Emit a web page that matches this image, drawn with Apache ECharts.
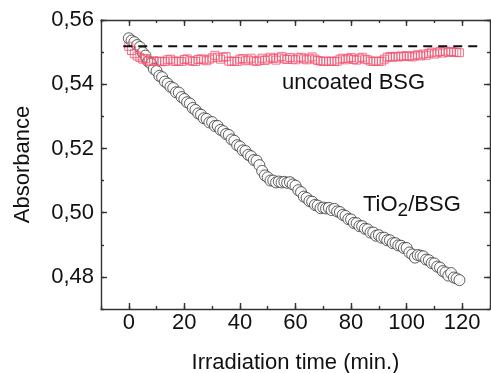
<!DOCTYPE html>
<html><head><meta charset="utf-8">
<script src="https://cdn.jsdelivr.net/npm/echarts@6/dist/echarts.min.js"></script>
<style>html,body{margin:0;padding:0;background:#fff}#c{width:491px;height:373px}</style>
</head><body><div id="c"></div>
<script>
// TiO2/BSG (open circles): time (min) and absorbance
const tioTimes = [0,1,2,3,4,5,6,7,8,9,10,11,12,13,14,15,16,17,18,19,20,21,22,23,24,25,26,27,28,29,30,31,32,33,34,35,36,37,38,39,40,41,42,43,44,45,46,47,48,49,50,51,52,53,54,55,56,57,58,59,60,61,62,63,64,65,66,67,68,69,70,71,72,73,74,75,76,77,78,79,80,81,82,83,84,85,86,87,88,89,90,91,92,93,94,95,96,97,98,99,100,101,102,103,104,105,106,107,108,109,110,111,112,113,114,115,116,117,118,119];
const tioValues = [0.5543,0.5536,0.5531,0.5522,0.5516,0.5499,0.5489,0.5471,0.5464,0.5448,0.5441,0.5426,0.5422,0.5408,0.5402,0.5392,0.5388,0.5375,0.5374,0.5360,0.5354,0.5344,0.5340,0.5326,0.5320,0.5309,0.5305,0.5294,0.5292,0.5281,0.5282,0.5270,0.5270,0.5258,0.5254,0.5245,0.5242,0.5228,0.5224,0.5210,0.5206,0.5194,0.5192,0.5180,0.5176,0.5164,0.5162,0.5148,0.5130,0.5116,0.5110,0.5100,0.5100,0.5094,0.5097,0.5094,0.5096,0.5093,0.5095,0.5088,0.5084,0.5070,0.5064,0.5050,0.5046,0.5036,0.5034,0.5024,0.5022,0.5014,0.5016,0.5013,0.5015,0.5008,0.5012,0.5004,0.5002,0.4993,0.4990,0.4980,0.4979,0.4968,0.4967,0.4958,0.4958,0.4950,0.4948,0.4938,0.4938,0.4928,0.4930,0.4922,0.4922,0.4914,0.4914,0.4905,0.4905,0.4898,0.4897,0.4890,0.4890,0.4876,0.4870,0.4860,0.4868,0.4866,0.4864,0.4854,0.4852,0.4843,0.4842,0.4832,0.4829,0.4818,0.4814,0.4804,0.4812,0.4798,0.4795,0.4790];
// uncoated BSG (open squares)
const bsgTimes = [0,1,2,3,4,5,6,7,8,9,10,11,12,13,14,15,16,17,18,19,20,21,22,23,24,25,26,27,28,29,30,31,32,33,34,35,36,37,38,39,40,41,42,43,44,45,46,47,48,49,50,51,52,53,54,55,56,57,58,59,60,61,62,63,64,65,66,67,68,69,70,71,72,73,74,75,76,77,78,79,80,81,82,83,84,85,86,87,88,89,90,91,92,93,94,95,96,97,98,99,100,101,102,103,104,105,106,107,108,109,110,111,112,113,114,115,116,117,118,119];
const bsgValues = [0.5518,0.5505,0.5495,0.5488,0.5483,0.5478,0.5480,0.5472,0.5471,0.5473,0.5471,0.5472,0.5470,0.5471,0.5476,0.5478,0.5472,0.5471,0.5472,0.5471,0.5477,0.5479,0.5473,0.5472,0.5471,0.5477,0.5479,0.5476,0.5473,0.5478,0.5482,0.5490,0.5484,0.5478,0.5484,0.5486,0.5472,0.5471,0.5472,0.5471,0.5478,0.5480,0.5473,0.5476,0.5481,0.5473,0.5471,0.5475,0.5481,0.5474,0.5478,0.5484,0.5480,0.5475,0.5482,0.5486,0.5479,0.5477,0.5483,0.5478,0.5476,0.5482,0.5484,0.5479,0.5476,0.5481,0.5485,0.5478,0.5474,0.5472,0.5471,0.5472,0.5471,0.5472,0.5471,0.5472,0.5478,0.5481,0.5476,0.5480,0.5483,0.5477,0.5475,0.5481,0.5484,0.5478,0.5476,0.5472,0.5471,0.5472,0.5471,0.5472,0.5478,0.5484,0.5486,0.5484,0.5487,0.5485,0.5488,0.5486,0.5489,0.5487,0.5485,0.5489,0.5492,0.5488,0.5494,0.5490,0.5496,0.5500,0.5494,0.5498,0.5502,0.5497,0.5503,0.5499,0.5502,0.5500,0.5499,0.5498];
// reference level (dashed line)
const refTimes = [-2, 127];
const refValues = [0.5518, 0.5518];
// tick labels
const xMajorTicks = [0, 20, 40, 60, 80, 100, 120];
const yMajorTicks = [0.48, 0.50, 0.52, 0.54, 0.56];

const FONT = '"Liberation Sans", Arial, sans-serif';
const AX = {color: '#333', width: 1.4};
const zip = (a, b) => a.map((v, i) => [v, b[i]]);

function xAx(pos, major, labels) {
  const o = {type: 'value', min: -10, max: 130, position: pos,
    axisLine: {show: major, onZero: false, lineStyle: AX},
    splitLine: {show: false},
    axisTick: {show: true, inside: true, length: major ? 6 : 3, lineStyle: AX},
    axisLabel: {show: false}};
  if (major) {
    o.axisTick.customValues = xMajorTicks;
    o.axisLabel = {show: labels, customValues: xMajorTicks, fontSize: 22, fontFamily: FONT, color: '#111', margin: 3};
  } else o.interval = 10;
  if (labels) {
    o.name = 'Irradiation time (min.)'; o.nameLocation = 'middle'; o.nameGap = 43;
    o.nameTextStyle = {fontSize: 22, fontFamily: FONT, color: '#111'};
  }
  return o;
}
function yAx(pos, major, labels) {
  const o = {type: 'value', min: 0.47, max: 0.56, position: pos,
    axisLine: {show: major, onZero: false, lineStyle: AX},
    splitLine: {show: false},
    axisTick: {show: true, inside: true, length: major ? 6 : 3, lineStyle: AX},
    axisLabel: {show: false}};
  if (major) {
    o.axisTick.customValues = yMajorTicks;
    o.axisLabel = {show: labels, customValues: yMajorTicks, fontSize: 22, fontFamily: FONT, color: '#111', margin: 7,
      formatter: v => v.toFixed(2).replace('.', ',')};
  } else o.interval = 0.01;
  if (labels) {
    o.name = 'Absorbance'; o.nameLocation = 'middle'; o.nameGap = 67;
    o.nameTextStyle = {fontSize: 22, fontFamily: FONT, color: '#111'};
  }
  return o;
}

const chart = echarts.init(document.getElementById('c'), null, {renderer: 'canvas'});
chart.setOption({
  animation: false,
  backgroundColor: '#fff',
  grid: {left: 101, right: 1, top: 20, bottom: 64, containLabel: false, outerBoundsMode: 'none'},
  xAxis: [xAx('bottom', true, true), xAx('bottom', false, false), xAx('top', true, false), xAx('top', false, false)],
  yAxis: [yAx('left', true, true), yAx('left', false, false), yAx('right', true, false), yAx('right', false, false)],
  series: [
    {type: 'scatter', name: 'TiO2/BSG', data: zip(tioTimes, tioValues), symbol: 'circle', symbolSize: 11,
      itemStyle: {color: '#fff', borderColor: '#3a3a3a', borderWidth: 1}, z: 2},
    {type: 'scatter', name: 'uncoated BSG', data: zip(bsgTimes, bsgValues), symbol: 'rect', symbolSize: 8,
      itemStyle: {color: 'rgba(255,255,255,0)', borderColor: '#f2506e', borderWidth: 1}, z: 3},
    {type: 'line', data: zip(refTimes, refValues), symbol: 'none', silent: true,
      lineStyle: {color: '#111', width: 2, type: [9, 6]}, z: 4}
  ],
  graphic: [
    {type: 'text', x: 282, y: 83, style: {text: 'uncoated BSG', fontSize: 22, fontFamily: FONT, fill: '#111', align: 'left', verticalAlign: 'middle'}},
    {type: 'text', x: 363, y: 205, style: {text: '{a|TiO}{b|2}{a|/BSG}', fill: '#111', align: 'left', verticalAlign: 'middle',
      rich: {a: {fontSize: 22, fontFamily: FONT, fill: '#111', lineHeight: 26},
             b: {fontSize: 19, fontFamily: FONT, fill: '#111', lineHeight: 26, padding: [12, 0, 0, 0]}}}}
  ]
});
</script></body></html>
